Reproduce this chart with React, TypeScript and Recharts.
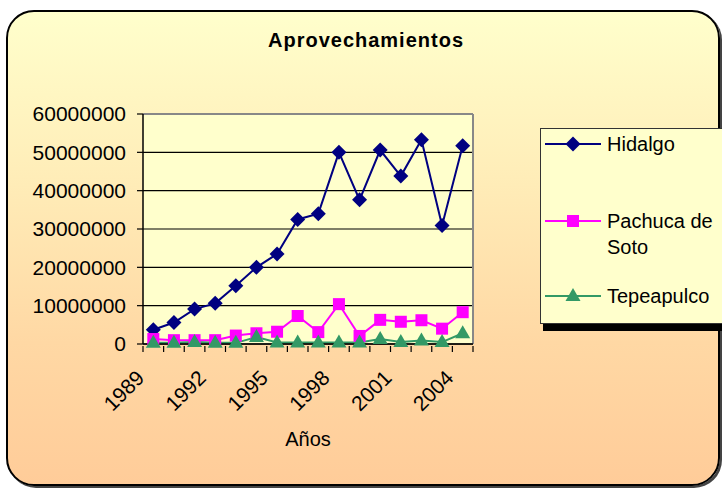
import * as React from "react";
import {
  LineChart,
  Line,
  XAxis,
  YAxis,
  CartesianGrid,
} from "recharts";

const years = [
  "1989", "1990", "1991", "1992", "1993", "1994", "1995", "1996",
  "1997", "1998", "1999", "2000", "2001", "2002", "2003", "2004",
];

const hidalgo = [
  3700000, 5600000, 9100000, 10600000, 15200000, 20000000, 23500000, 32500000,
  34000000, 50000000, 37600000, 50600000, 43800000, 53300000, 30900000, 51700000,
];

const pachucaDeSoto = [
  1300000, 1000000, 1000000, 1000000, 2200000, 2800000, 3200000, 7300000,
  3100000, 10400000, 2100000, 6300000, 5800000, 6200000, 4000000, 8300000,
];

const tepeapulco = [
  300000, 300000, 500000, 300000, 300000, 1800000, 400000, 400000,
  400000, 400000, 400000, 1300000, 500000, 900000, 500000, 2800000,
];

const yTicks = [0, 10000000, 20000000, 30000000, 40000000, 50000000, 60000000];

const seriesInfo = [
  { key: "hidalgo", name: "Hidalgo", color: "#000080", shape: "diamond" },
  { key: "pachuca", name: "Pachuca de Soto", color: "#FF00FF", shape: "square" },
  { key: "tepeapulco", name: "Tepeapulco", color: "#339966", shape: "triangle" },
];

const FONT = "'Liberation Sans', Arial, sans-serif";
const BAND = 330 / 16;

function Marker({ shape, cx, cy, color }: { shape: string; cx: number; cy: number; color: string }) {
  if (shape === "diamond") {
    return (
      <polygon
        points={`${cx},${cy - 7.5} ${cx + 7.5},${cy} ${cx},${cy + 7.5} ${cx - 7.5},${cy}`}
        fill={color}
      />
    );
  }
  if (shape === "square") {
    return <rect x={cx - 6} y={cy - 6} width={12} height={12} fill={color} />;
  }
  return (
    <polygon
      points={`${cx},${cy - 8} ${cx + 7.5},${cy + 5} ${cx - 7.5},${cy + 5}`}
      fill={color}
    />
  );
}

function makeDot(shape: string, color: string) {
  return (props: any) => {
    const { cx, cy, index } = props;
    if (cx == null || cy == null) return <g key={`e-${index}`} />;
    return (
      <g key={`${shape}-${index}`}>
        <Marker shape={shape} cx={cx} cy={cy} color={color} />
      </g>
    );
  };
}

function YearTick(props: any) {
  const { x, y, payload, index } = props;
  const showLabel = index % 3 === 0;
  const tx = x - 13;
  const ty = y + 28;
  return (
    <g>
      <line x1={x - BAND / 2} y1={y} x2={x - BAND / 2} y2={y + 6} stroke="#000" strokeWidth={1.2} />
      {index === years.length - 1 && (
        <line x1={x + BAND / 2} y1={y} x2={x + BAND / 2} y2={y + 6} stroke="#000" strokeWidth={1.2} />
      )}
      {showLabel && (
        <text
          x={tx}
          y={ty}
          dy="0.35em"
          textAnchor="end"
          transform={`rotate(-45, ${tx}, ${ty})`}
          fontSize={21}
          fontFamily={FONT}
          fill="#000"
        >
          {payload.value}
        </text>
      )}
    </g>
  );
}

function LegendBox() {
  const rows = [
    { info: seriesInfo[0], top: 15 },
    { info: seriesInfo[1], top: 92 },
    { info: seriesInfo[2], top: 167 },
  ];
  return (
    <div
      style={{
        position: "absolute",
        left: 540,
        top: 128,
        width: 200,
        height: 196,
        boxSizing: "border-box",
        background: "#FFFFCC",
        border: "1px solid #333",
        boxShadow: "3px 7px 0 #000",
        fontFamily: FONT,
        fontSize: 20,
        color: "#000",
      }}
    >
      {rows.map((r) => (
        <div key={r.info.key} style={{ position: "absolute", left: 4, top: r.top - 13, height: 26 }}>
          <svg width={58} height={26} style={{ position: "absolute", left: 0, top: 0 }}>
            <line x1={0} y1={13} x2={56} y2={13} stroke={r.info.color} strokeWidth={2} />
            <Marker shape={r.info.shape} cx={28} cy={13} color={r.info.color} />
          </svg>
          <div
            style={{
              position: "absolute",
              left: 62,
              top: 0,
              width: 118,
              lineHeight: "26px",
              textAlign: "left",
              whiteSpace: "normal",
            }}
          >
            {r.info.name}
          </div>
        </div>
      ))}
    </div>
  );
}

export default function App() {
  const data = years.map((year, i) => ({
    year,
    hidalgo: hidalgo[i],
    pachuca: pachucaDeSoto[i],
    tepeapulco: tepeapulco[i],
  }));

  return (
    <div
      style={{
        position: "absolute",
        left: 0,
        top: 0,
        width: 722,
        height: 489,
        overflow: "hidden",
        background: "#fff",
      }}
    >
      <div
        style={{
          position: "absolute",
          left: 6,
          top: 10,
          width: 714,
          height: 476,
          boxSizing: "border-box",
          border: "2px solid #000",
          borderRadius: 28,
          boxShadow: "2px 2px 0 #444",
          background: "linear-gradient(to bottom, #FFFFCC 0%, #FFEDB8 35%, #FFD8A4 70%, #FFCC99 100%)",
        }}
      />
      <div
        style={{
          position: "absolute",
          left: 0,
          width: 732,
          top: 29,
          textAlign: "center",
          fontFamily: FONT,
          fontWeight: "bold",
          fontSize: 20,
          letterSpacing: 1,
        }}
      >
        Aprovechamientos
      </div>
      <div
        style={{
          position: "absolute",
          left: 208,
          width: 200,
          top: 428,
          textAlign: "center",
          fontFamily: FONT,
          fontSize: 20,
        }}
      >
        Años
      </div>
      <div style={{ position: "absolute", left: 0, top: 0 }}>
        <LineChart
          width={722}
          height={489}
          data={data}
          margin={{ top: 114, right: 249, left: 0, bottom: 45 }}
        >
          <CartesianGrid vertical={false} stroke="#000" strokeWidth={1.2} fill="#FFFFCC" />
          <CartesianGrid
            stroke="#888"
            strokeWidth={2}
            horizontalCoordinatesGenerator={({ offset }: any) => [offset.top]}
            verticalCoordinatesGenerator={({ offset }: any) => [offset.left + offset.width]}
          />
          <XAxis
            dataKey="year"
            interval={0}
            height={100}
            padding={{ left: BAND / 2, right: BAND / 2 }}
            tickSize={0}
            tickLine={false}
            tick={<YearTick />}
            axisLine={{ stroke: "#000", strokeWidth: 1.5 }}
          />
          <YAxis
            width={143}
            domain={[0, 60000000]}
            ticks={yTicks}
            interval={0}
            tickSize={6}
            tickMargin={11}
            tickLine={{ stroke: "#000", strokeWidth: 1.2 }}
            axisLine={{ stroke: "#000", strokeWidth: 1.5 }}
            tick={{ fill: "#000", fontSize: 21, fontFamily: FONT }}
          />
          <Line
            type="linear"
            dataKey="hidalgo"
            name="Hidalgo"
            stroke="#000080"
            strokeWidth={2}
            dot={makeDot("diamond", "#000080")}
            isAnimationActive={false}
          />
          <Line
            type="linear"
            dataKey="pachuca"
            name="Pachuca de Soto"
            stroke="#FF00FF"
            strokeWidth={2}
            dot={makeDot("square", "#FF00FF")}
            isAnimationActive={false}
          />
          <Line
            type="linear"
            dataKey="tepeapulco"
            name="Tepeapulco"
            stroke="#339966"
            strokeWidth={2}
            dot={makeDot("triangle", "#339966")}
            isAnimationActive={false}
          />
        </LineChart>
      </div>
      <LegendBox />
    </div>
  );
}
